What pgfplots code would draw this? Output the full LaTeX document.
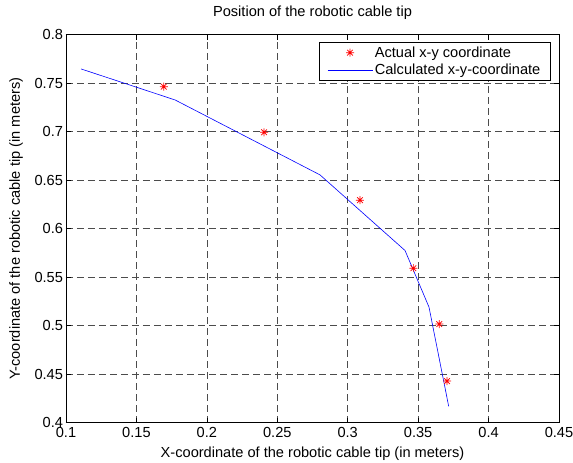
\documentclass[border=0pt]{standalone}
\usepackage{fontspec}
\setmainfont{Liberation Sans}
\usepackage{pgfplots}
\pgfplotsset{compat=1.18}

% MATLAB-style '*' marker: plus and cross together
\pgfdeclareplotmark{mstar}{%
  \pgfpathmoveto{\pgfqpoint{-\pgfplotmarksize}{0pt}}%
  \pgfpathlineto{\pgfqpoint{\pgfplotmarksize}{0pt}}%
  \pgfpathmoveto{\pgfqpoint{0pt}{-\pgfplotmarksize}}%
  \pgfpathlineto{\pgfqpoint{0pt}{\pgfplotmarksize}}%
  \pgfpathmoveto{\pgfqpoint{-0.7071\pgfplotmarksize}{-0.7071\pgfplotmarksize}}%
  \pgfpathlineto{\pgfqpoint{0.7071\pgfplotmarksize}{0.7071\pgfplotmarksize}}%
  \pgfpathmoveto{\pgfqpoint{-0.7071\pgfplotmarksize}{0.7071\pgfplotmarksize}}%
  \pgfpathlineto{\pgfqpoint{0.7071\pgfplotmarksize}{-0.7071\pgfplotmarksize}}%
  \pgfusepathqstroke}

\pgfplotsset{
  markleg/.style={legend image code/.code={%
      \draw[##1] plot coordinates {(22.5pt,0pt)};}},
  lineleg/.style={legend image code/.code={%
      \draw[##1] (0pt,0pt) -- (45pt,0pt);}},
}

\begin{document}
\begin{tikzpicture}
\begin{axis}[
    name=main,
    scale only axis,
    width=493pt, height=388pt,
    xmin=0.1, xmax=0.45,
    ymin=0.4, ymax=0.8,
    xtick={0.1,0.15,...,0.451},
    ytick={0.4,0.45,...,0.801},
    /pgf/number format/fixed,
    /pgf/number format/precision=2,
    /pgf/number format/assume math mode=true,
    font=\fontsize{14.6}{17}\selectfont,
    tick label style={font=\fontsize{14.6}{17}\selectfont},
    xticklabel style={yshift=-1.5pt},
    yticklabel style={xshift=0.5pt},
    grid=major,
    grid style={black!70, dash pattern=on 7pt off 4pt, line width=0.6pt},
    axis line style={black, line width=0.8pt},
    major tick length=5pt,
    tick style={black, line width=0.6pt},
    title={Position of the robotic cable tip},
    title style={at={(axis description cs:0.5,1.0325)}, anchor=base},
    xlabel={X-coordinate of the robotic cable tip (in meters)},
    xlabel style={at={(axis description cs:0.5,-0.0894)}, anchor=base},
    ylabel={Y-coordinate of the robotic cable tip (in meters)},
    ylabel style={at={(axis description cs:-0.0933,0.5)}, anchor=base},
    legend style={at={(1,1)}, anchor=north east, xshift=-8.3pt, yshift=-7.6pt,
                  draw=black, fill=white, line width=0.7pt,
                  font=\fontsize{14.6}{17}\selectfont,
                  nodes={inner sep=2pt},
                  inner xsep=8pt, inner ysep=2pt, row sep=1.5pt,
                  /tikz/every even column/.append style={column sep=3pt}},
    legend cell align=left,
]
\addplot[only marks, mark=mstar, mark size=4pt, red, line width=0.7pt, markleg]
  coordinates {
    (0.1694,0.7464)
    (0.2406,0.6994)
    (0.3087,0.6294)
    (0.3466,0.5593)
    (0.3650,0.5017)
    (0.3705,0.4429)
  };
\addlegendentry{Actual x-y coordinate}
\addplot[blue, line width=0.6pt, mark=none, lineleg]
  coordinates {
    (0.1107,0.7647)
    (0.1775,0.7327)
    (0.2803,0.6555)
    (0.3407,0.5775)
    (0.3577,0.5192)
    (0.3717,0.4168)
  };
\addlegendentry{Calculated x-y-coordinate}
\end{axis}
\pgfresetboundingbox
\path[use as bounding box]
  ([xshift=-66pt,yshift=-40pt]main.south west) rectangle
  ([xshift=14pt,yshift=34.7pt]main.north east);
\end{tikzpicture}
\end{document}
